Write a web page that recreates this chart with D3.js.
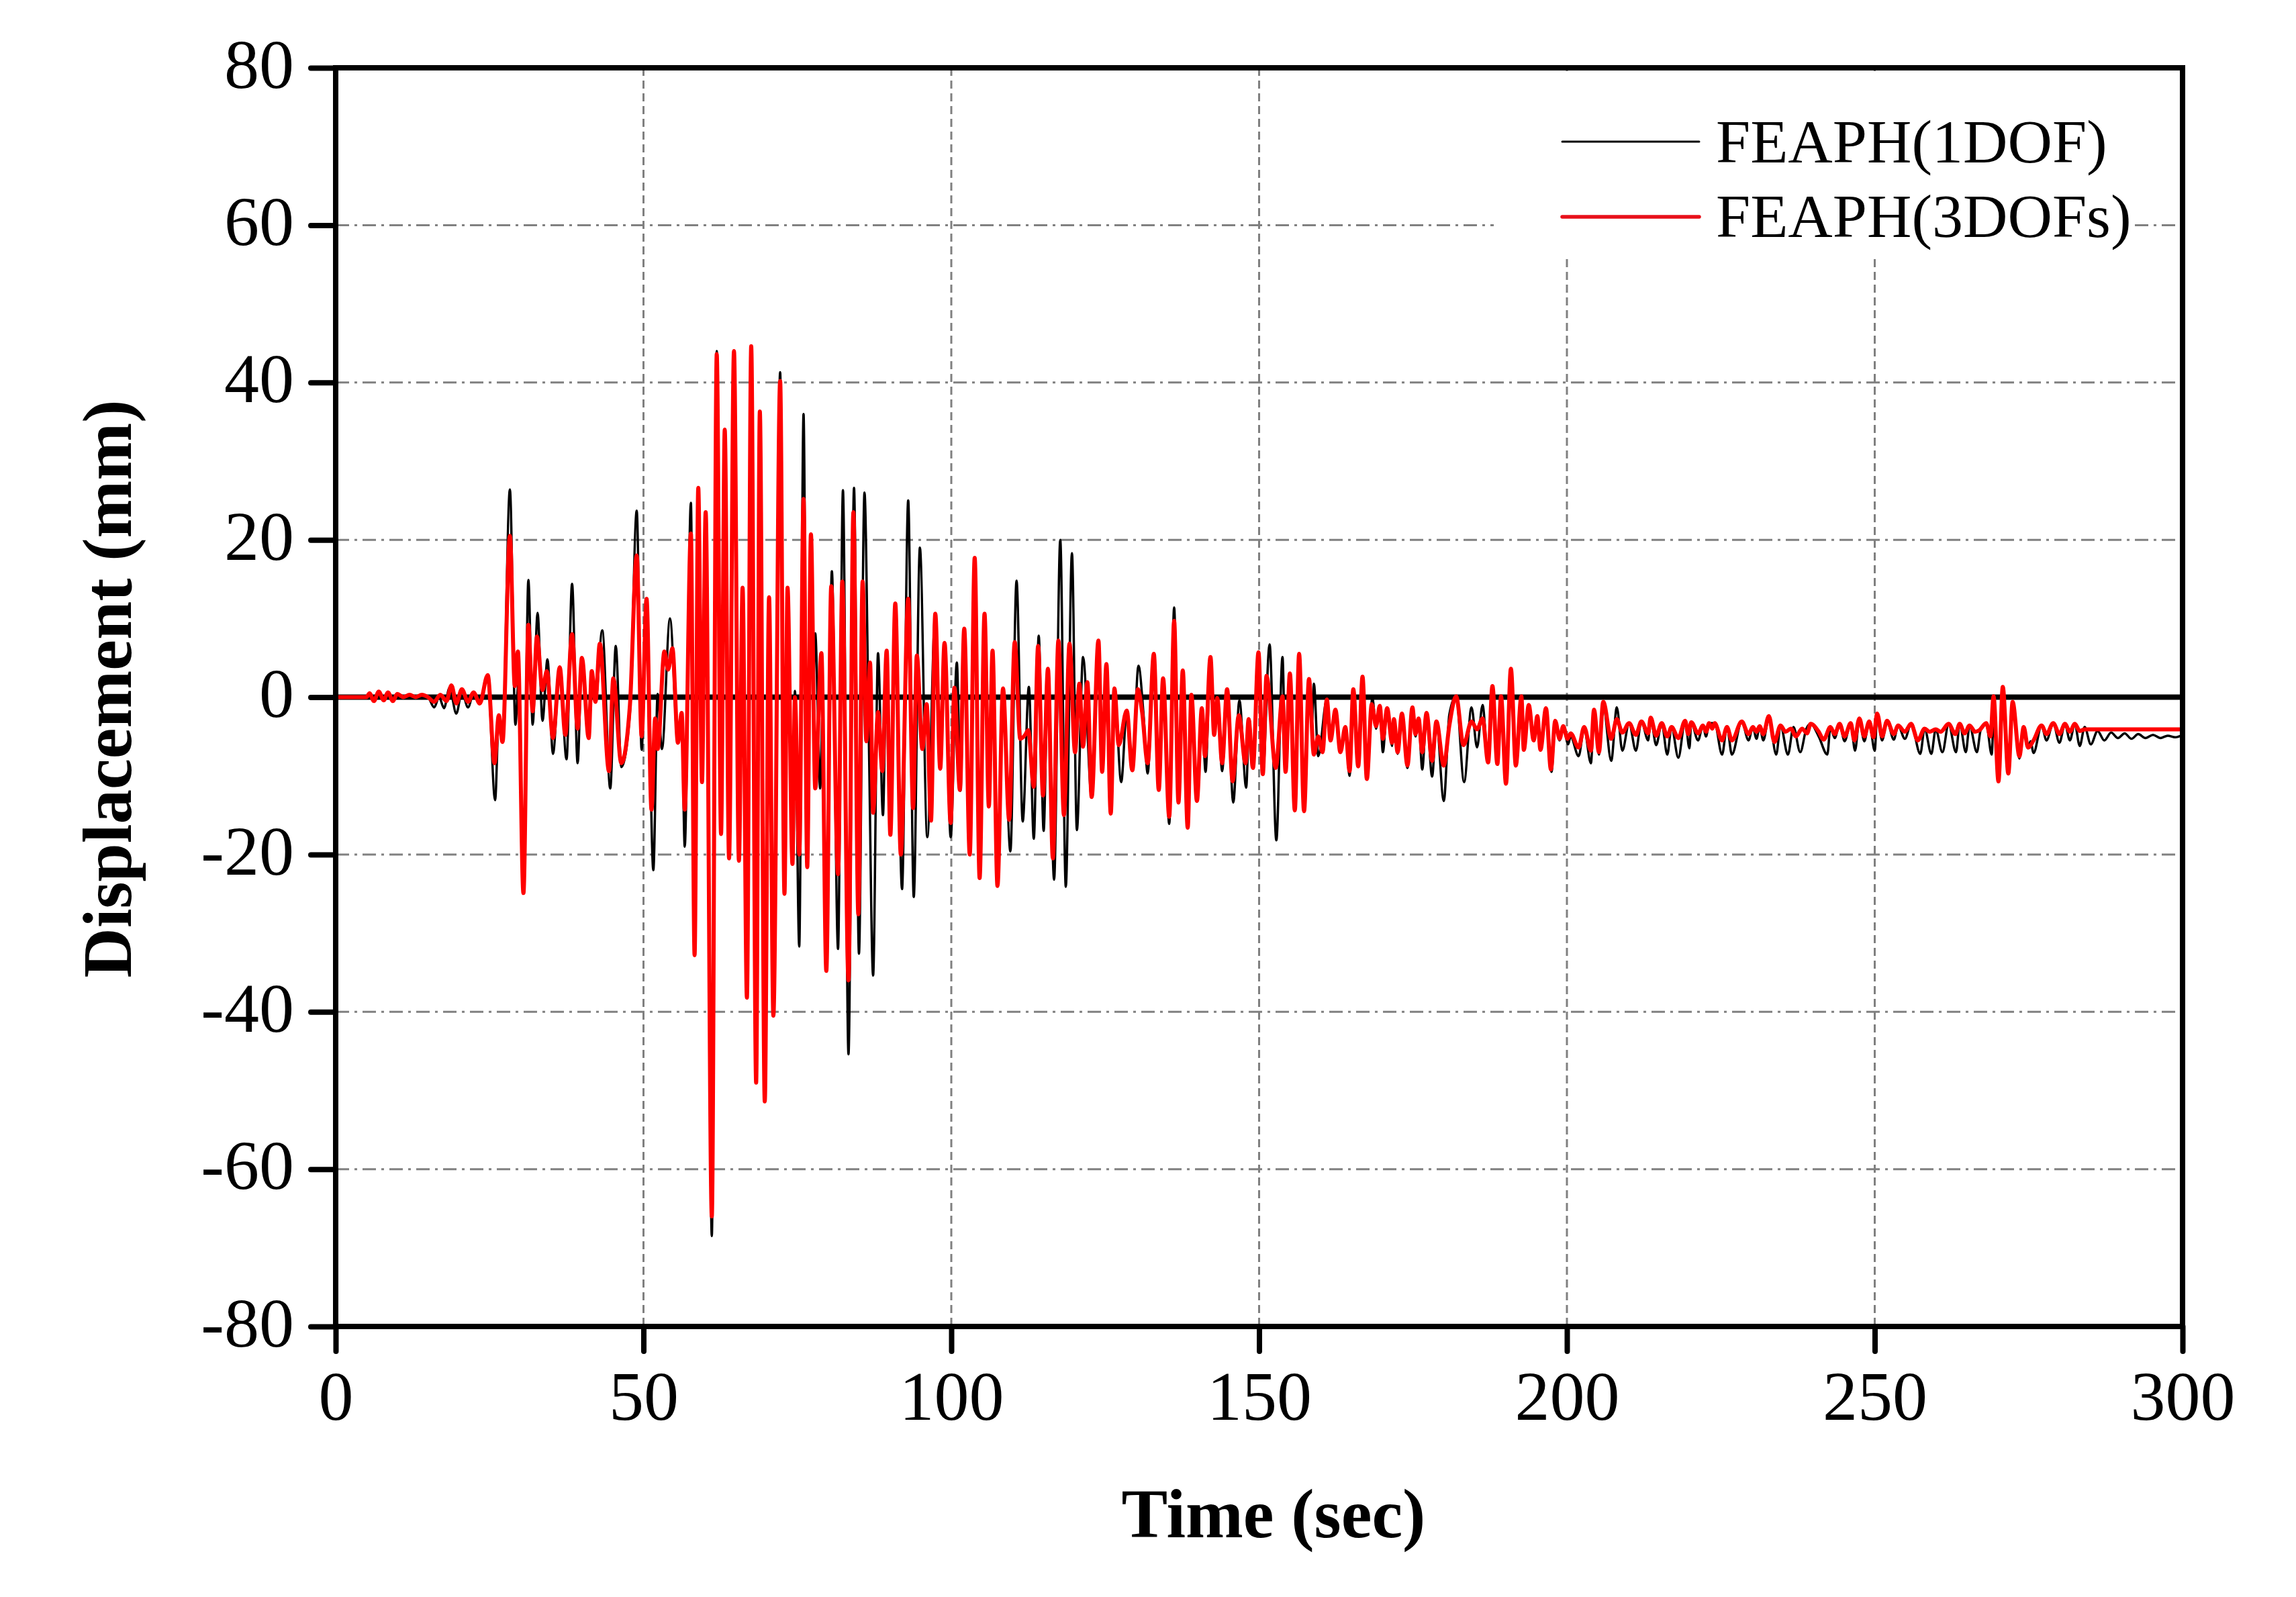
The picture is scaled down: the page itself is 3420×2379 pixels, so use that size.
<!DOCTYPE html>
<html><head><meta charset="utf-8">
<script src="https://cdn.jsdelivr.net/npm/d3@7"></script>
<style>body{margin:0;background:#fff}</style>
</head><body>
<svg id="c" width="3420" height="2379"></svg>
<script>
const xTicks = [0, 50, 100, 150, 200, 250, 300];
const yTicks = [-80, -60, -40, -20, 0, 20, 40, 60, 80];
const seriesNames = ["FEAPH(1DOF)", "FEAPH(3DOFs)"];
const xTitle = "Time (sec)";
const yTitle = "Displacement (mm)";

// FEAPH(1DOF) — black, [time (s), displacement (mm)]
const series1DOF = [[0,0],[5,0],[5.5,0.4],[6.2,-0.5],[7,0.6],[7.8,-0.4],[8.5,0.5],[9.3,-0.5],[10,0.3],[11,0],[12,0.3],[13,0],[14,0.2],[15,0],[16,-1.3],[16.8,0],[17.6,-1.4],[18.5,1.2],[19.6,-2.1],[20.5,0.7],[21.5,-1.3],[22.4,0.5],[23.4,-0.5],[24.7,2.5],[25.9,-13.1],[26.5,-2.5],[27.1,-5],[28.3,26.4],[29.2,-3.5],[29.7,2],[30.5,-24.5],[31.3,14.9],[32.0,-3.5],[32.8,10.7],[33.6,-3],[34.4,4.8],[35.3,-7.2],[36.4,3.8],[37.5,-7.9],[38.4,14.4],[39.3,-8.4],[40.0,5],[41.1,-5],[41.6,3],[42.2,-0.5],[43.3,8.5],[44.6,-11.6],[45.5,6.5],[46.4,-8.9],[47.8,-2],[48.9,23.7],[49.7,-6.7],[50.5,12.5],[51.6,-22],[52.3,0.4],[53.0,-6.6],[54.3,10],[55.6,-5.8],[56.2,-2],[56.7,-19],[57.7,24.7],[58.3,-32.8],[58.9,26.6],[59.5,-10.8],[60.1,23.5],[61.1,-68.5],[61.9,44],[62.6,-17.4],[63.2,34],[63.9,-20.5],[64.7,44],[65.5,-20.8],[66.1,13.9],[66.8,-38.2],[67.5,44.6],[68.3,-49],[68.9,36.3],[69.7,-51.4],[70.4,12.7],[71.1,-40.5],[72.2,41.3],[72.9,-25],[73.4,13.9],[74.2,-21.2],[74.6,0.8],[75.3,-31.7],[76.0,36],[76.6,-21.6],[77.2,20.7],[77.6,2],[77.9,8.1],[78.7,-11.6],[79.1,-2],[79.7,-34.8],[80.6,16],[81.6,-32],[82.4,26.3],[83.3,-45.4],[84.2,26.6],[85.0,-32.6],[85.9,26],[86.6,-5],[87.3,-35.4],[88.1,5.6],[88.9,-15],[89.5,5.9],[90.1,-17.5],[90.9,11.9],[92.0,-24.4],[93.0,25],[93.9,-25.4],[94.9,19],[96.1,-17.8],[97.4,10.6],[98.2,-9.1],[98.9,6.9],[99.9,-17.8],[100.9,4.4],[101.5,-11.9],[102.1,8.7],[103.0,-20],[103.8,17.7],[104.6,-23],[105.4,10.6],[106.1,-13.9],[106.7,5.9],[107.5,-24],[108.4,1.1],[109.6,-19.6],[110.6,14.8],[111.6,-15.8],[112.6,1.3],[113.4,-18],[114.2,7.8],[115.0,-17],[115.7,3.6],[116.7,-23.2],[117.7,20],[118.6,-24.1],[119.6,18.3],[120.4,-16.9],[121.4,5.1],[122.8,-12.7],[123.9,7.2],[124.5,-9.5],[125.2,4.2],[125.9,-14.8],[126.5,1.1],[127.6,-10.8],[128.5,-1.7],[129.4,-9.3],[130.4,4],[131.2,-1.9],[131.9,-9.7],[132.9,5.5],[133.7,-11.8],[134.4,2.4],[135.4,-16.1],[136.2,11.4],[136.9,-13.4],[137.6,3.4],[138.4,-16.6],[139.0,0.3],[139.9,-13.2],[140.7,-1.4],[141.3,-9.5],[142.1,5.1],[142.7,-4.8],[143.2,-0.1],[144.0,-9.4],[144.8,1],[145.8,-13.4],[146.8,-0.4],[147.9,-11.5],[148.4,-2.8],[149.0,-9],[149.9,5.7],[150.6,-9.8],[151.7,6.7],[152.8,-18.2],[153.8,5.1],[154.3,-9.5],[155.0,3],[155.8,-14.4],[156.5,5.5],[157.3,-14.5],[158.1,2.3],[158.6,-3],[158.9,1.7],[159.6,-7.5],[161.0,-0.3],[161.6,-5.5],[162.4,-1.6],[163.2,-7],[164.0,-3.8],[164.7,-10],[165.3,1],[166.1,-8.8],[166.8,2.6],[167.5,-10.4],[168.4,-0.1],[169.0,-4],[169.6,-1.1],[170.1,-7],[170.8,-1.4],[171.6,-6.2],[171.9,-2.8],[172.5,-7.2],[173.2,-2.1],[174.1,-9],[174.9,-1.3],[175.4,-5],[175.9,-2.7],[176.5,-9.2],[177.2,-2],[178.1,-10.1],[178.8,-3.1],[180.0,-13.2],[180.9,-2.2],[182.0,0.1],[183.3,-10.8],[184.5,-1.3],[185.4,-6.4],[186.3,-1],[187.2,-8.3],[187.9,1.4],[188.7,-8.5],[189.3,0.1],[190.1,-11],[190.9,3.6],[191.7,-8.7],[192.6,0.1],[193.0,-6.7],[193.8,-1],[194.6,-5.5],[195.2,-2.4],[195.7,-6.7],[196.6,-1.4],[197.5,-9.5],[198.1,-3],[198.8,-5.5],[199.4,-3.7],[200.2,-6],[200.6,-5],[201.9,-7.5],[202.8,-4],[203.9,-8.4],[204.4,-2],[205.2,-7.3],[205.9,-1],[207.2,-8.1],[208.1,-1.3],[209.0,-6.8],[210.1,-3.3],[211.2,-6.8],[212.1,-3.1],[213.2,-5.5],[213.6,-2.6],[214.5,-6.1],[215.4,-3.3],[216.3,-7.3],[217.0,-3.8],[218.1,-7.7],[219.2,-3],[219.9,-6.5],[220.2,-3.2],[221.3,-5.5],[222.1,-3.6],[222.6,-5],[223.1,-3.3],[224.0,-3.3],[225.2,-7.3],[226.0,-3.8],[226.8,-7.3],[228.4,-3.1],[229.5,-5.5],[230.2,-3.8],[230.8,-5.3],[231.3,-3.7],[231.9,-5.5],[232.8,-2.6],[234.0,-7.3],[234.7,-3.6],[235.9,-7.3],[236.8,-3.8],[237.9,-7.0],[238.9,-4],[239.6,-3.4],[240.9,-5],[242.3,-7.3],[242.8,-3.8],[243.5,-5.2],[244.3,-3.4],[245.1,-5.6],[246.1,-3.3],[246.8,-6.8],[247.5,-2.8],[248.3,-5.6],[249.1,-3.2],[250.0,-6.8],[250.4,-2.3],[251.2,-5.5],[252.0,-3],[253.1,-5.4],[253.8,-3.6],[254.9,-5.3],[255.9,-3.4],[257.4,-7.2],[258.1,-4],[259.2,-7.2],[259.9,-4.1],[261.0,-7],[262.0,-3.4],[263.2,-7],[263.8,-3.4],[264.8,-7],[265.4,-3.6],[266.6,-7],[267.2,-4.2],[268.1,-3.3],[269.0,-7.3],[269.4,-0.5],[270.1,-10.5],[270.8,1.0],[271.7,-9.5],[272.4,-1],[273.5,-7.8],[274.2,-3.8],[274.9,-6.5],[275.3,-5.6],[275.8,-7.1],[277.1,-3.6],[277.9,-5.5],[279.0,-3.3],[280.0,-5.8],[280.9,-3.4],[281.7,-5.5],[282.5,-3.4],[283.3,-6.2],[284.1,-3.8],[285.1,-6],[286.2,-4.3],[287.3,-5.5],[288.4,-4.5],[289.5,-5.2],[290.6,-4.6],[291.7,-5.3],[292.8,-4.7],[294.0,-5.2],[295.2,-4.8],[296.4,-5.2],[297.6,-4.9],[298.8,-5.1],[300,-4.8]];

// FEAPH(3DOFs) — red, [time (s), displacement (mm)]
const series3DOFs = [[0,0],[5,0],[5.5,0.5],[6.2,-0.5],[7,0.7],[7.8,-0.4],[8.5,0.6],[9.3,-0.5],[10,0.4],[11,0],[12,0.3],[13,0],[14,0.3],[15,0],[16,-0.6],[17,0.3],[18,-0.5],[18.8,1.5],[19.6,-0.8],[20.5,1.0],[21.5,-0.6],[22.4,0.6],[23.4,-0.8],[24.7,2.8],[25.8,-8.4],[26.5,-2.3],[27.1,-5.7],[28.3,20.5],[29.1,1.4],[29.6,5.8],[30.5,-24.9],[31.3,9.2],[32.0,-1.8],[32.7,7.7],[33.6,0.9],[34.3,3.3],[35.3,-5.2],[36.4,3.8],[37.3,-4.8],[38.4,8.0],[39.3,-4.0],[40.0,5.0],[41.1,-5.2],[41.6,3.3],[42.2,-0.6],[42.9,6.8],[44.4,-9.4],[45.1,2.4],[46.4,-8.4],[47.8,-1],[48.9,18],[49.7,-5],[50.5,12.5],[51.3,-14.3],[51.9,-2.7],[52.3,-6.6],[53.4,5.8],[54.0,3.5],[54.7,6.2],[55.6,-5.8],[56.2,-2],[56.7,-14.3],[57.7,20.8],[58.3,-32.8],[58.9,26.6],[59.5,-10.8],[60.1,23.5],[61.1,-66],[61.9,43.6],[62.6,-17.4],[63.2,34],[63.9,-20.5],[64.7,44],[65.5,-20.8],[66.1,13.9],[66.8,-38.2],[67.5,44.6],[68.3,-49],[68.9,36.3],[69.7,-51.4],[70.4,12.7],[71.1,-40.5],[72.2,40.2],[72.9,-25],[73.4,13.9],[74.2,-21.2],[74.6,0],[75.3,-20],[76.0,25.2],[76.6,-21.6],[77.2,20.7],[77.9,-11.6],[78.9,5.6],[79.7,-34.8],[80.5,14.1],[81.6,-22.5],[82.3,14.7],[83.3,-36],[84.1,23.5],[84.9,-27.6],[85.6,14.7],[86.2,-5.6],[86.8,4.4],[87.3,-14.7],[88.1,-1.9],[88.8,-9.4],[89.5,5.9],[90.1,-17.5],[90.9,11.9],[91.8,-20],[93.0,12.5],[93.8,-14.1],[94.4,5.3],[95.3,-6.6],[96.0,-0.9],[96.7,-15.7],[97.4,10.6],[98.2,-9.1],[98.9,6.9],[99.9,-16],[100.5,1.2],[101.4,-11.8],[102.1,8.7],[103.0,-20],[103.8,17.7],[104.6,-23],[105.4,10.6],[106.1,-13.9],[106.7,5.9],[107.5,-24],[108.4,1.1],[109.4,-15.6],[110.3,7],[111.2,-5.3],[112.0,-4.8],[112.5,-4.2],[113.4,-11.4],[114.1,6.5],[114.9,-12.5],[115.7,3.6],[116.5,-20.5],[117.4,7.2],[118.3,-15],[119.2,6.8],[120.1,-7],[120.8,1.7],[121.4,-6.3],[122.1,1.9],[122.8,-12.7],[123.9,7.2],[124.5,-9.5],[125.2,4.2],[125.9,-14.8],[126.5,1.1],[127.2,-6.1],[128.5,-1.7],[129.4,-9.3],[130.3,1],[131.0,-1.9],[131.9,-8.4],[132.9,5.5],[133.7,-11.8],[134.4,2.4],[135.4,-15.2],[136.2,9.7],[136.9,-13.4],[137.6,3.4],[138.4,-16.6],[139.0,0.3],[139.9,-13.2],[140.7,-1.4],[141.2,-7.5],[142.1,5.1],[142.7,-4.8],[143.2,-0.1],[144.0,-8.4],[144.8,1],[145.7,-10.7],[146.7,-2.3],[147.8,-8.4],[148.3,-2.8],[149.0,-9],[149.9,5.7],[150.6,-9.8],[151.2,2.7],[152.7,-9],[153.8,0.1],[154.3,-9.5],[155.0,3],[155.8,-14.4],[156.5,5.5],[157.3,-14.5],[158.1,2.3],[158.9,-7.3],[159.6,-5],[160.3,-7],[161.0,-0.3],[161.6,-5.5],[162.4,-1.6],[163.2,-7],[164.0,-3.8],[164.7,-9.4],[165.3,1],[166.1,-8.8],[166.8,2.6],[167.5,-10.4],[168.3,-0.9],[169.0,-3.7],[169.6,-1.1],[170.1,-5.3],[170.8,-1.4],[171.6,-5.8],[171.9,-2.8],[172.5,-7],[173.2,-2.1],[174.1,-8.7],[174.9,-1.3],[175.4,-4.7],[175.9,-2.7],[176.5,-7],[177.2,-2],[178.1,-8.1],[178.8,-3.1],[180.0,-8.7],[180.9,-3.6],[182.0,0.1],[183.2,-6.1],[184.5,-3.1],[185.4,-4.1],[186.3,-2.7],[187.2,-8.3],[187.9,1.4],[188.7,-8.5],[189.3,0.1],[190.1,-11],[190.9,3.6],[191.7,-8.7],[192.6,0.1],[193.0,-6.7],[193.8,-1],[194.6,-5.5],[195.2,-2.4],[195.7,-6.7],[196.6,-1.4],[197.4,-9.2],[198.1,-3],[198.8,-5.3],[199.4,-3.7],[200.1,-5.3],[200.6,-4.6],[201.9,-6.4],[202.8,-3.8],[203.9,-6.8],[204.4,-1.6],[205.2,-7],[205.9,-0.6],[207.2,-5.3],[208.1,-2.8],[209.0,-4.5],[210.1,-3.3],[211.2,-4.8],[212.1,-3.1],[213.2,-4.6],[213.6,-2.6],[214.5,-4.9],[215.4,-3.3],[216.3,-5],[217.0,-3.8],[218.1,-5.2],[219.2,-3],[219.7,-4.7],[220.2,-3.2],[221.3,-4.6],[222.1,-3.6],[222.6,-4.4],[223.1,-3.3],[223.6,-4.0],[224.0,-3.3],[225.2,-5.5],[226.0,-3.8],[226.8,-5.5],[228.4,-3.1],[229.5,-4.7],[230.2,-3.8],[230.8,-4.4],[231.3,-3.7],[231.9,-4.7],[232.8,-2.4],[233.7,-5.7],[234.7,-3.6],[235.5,-4.4],[236.4,-4],[237.2,-5],[238.2,-4],[239.0,-4.6],[239.6,-3.4],[240.9,-4.4],[241.7,-5.4],[242.8,-3.8],[243.5,-4.7],[244.3,-3.4],[245.1,-5],[246.1,-3.3],[246.7,-5.5],[247.5,-2.7],[248.3,-5],[249.1,-3.1],[249.8,-5.1],[250.4,-2.1],[251.2,-5],[252.0,-3],[253.1,-4.7],[253.8,-3.6],[254.9,-4.4],[255.9,-3.4],[257.0,-5.5],[258.1,-4],[258.9,-4.4],[259.9,-4.1],[260.7,-4.4],[262.0,-3.4],[263.1,-4.7],[263.8,-3.4],[264.6,-4.6],[265.4,-3.6],[266.3,-4.4],[267.0,-4.2],[268.1,-3.3],[268.8,-5],[269.3,0.1],[270.1,-10.7],[270.8,1.3],[271.7,-9.7],[272.4,-0.6],[273.5,-7.5],[274.2,-3.8],[274.9,-6.4],[275.8,-5.5],[277.1,-3.6],[277.9,-4.7],[279.0,-3.3],[280.0,-4.7],[280.9,-3.4],[281.7,-4.4],[282.5,-3.4],[283.3,-4.3],[284.1,-4.1],[300,-4.1]];

const svg = d3.select("#c");
const L = 500, R = 3251, T = 101, B = 1976;
const x = d3.scaleLinear().domain([0, 300]).range([L, R]);
const y = d3.scaleLinear().domain([-80, 80]).range([B, T]);
const serif = "'Liberation Serif','Times New Roman',serif";
const fmt = d => String(d);  // ASCII hyphen-minus like the reference

svg.append("rect").attr("width", 3420).attr("height", 2379).attr("fill", "#fff");

// grid
const grid = svg.append("g");
grid.selectAll(".vg").data(xTicks.filter(d => d > 0 && d < 300)).enter().append("line")
  .attr("x1", d => x(d)).attr("x2", d => x(d)).attr("y1", T).attr("y2", B)
  .attr("stroke", "#808080").attr("stroke-width", 3).attr("stroke-dasharray", "12,7");
grid.selectAll(".hg").data(yTicks.filter(d => d !== 0 && Math.abs(d) < 80)).enter().append("line")
  .attr("x1", L).attr("x2", R).attr("y1", d => y(d)).attr("y2", d => y(d))
  .attr("stroke", "#808080").attr("stroke-width", 3).attr("stroke-dasharray", "20,8,4,8");

// zero line
svg.append("line").attr("x1", L).attr("x2", R).attr("y1", y(0)).attr("y2", y(0))
  .attr("stroke", "#000").attr("stroke-width", 8);

svg.append("clipPath").attr("id", "clip").append("rect")
  .attr("x", L).attr("y", T).attr("width", R - L).attr("height", B - T);

const line = d3.line().x(d => x(d[0])).y(d => y(d[1])).curve(d3.curveMonotoneX);
const plot = svg.append("g").attr("clip-path", "url(#clip)");
plot.append("path").datum(series1DOF).attr("d", line)
  .attr("fill", "none").attr("stroke", "#000").attr("stroke-width", 3.5).attr("stroke-linejoin", "round");
plot.append("path").datum(series3DOFs).attr("d", line)
  .attr("fill", "none").attr("stroke", "#ff0000").attr("stroke-width", 6).attr("stroke-linejoin", "round");

// legend
svg.append("rect").attr("x", 2225).attr("y", 106).attr("width", 955).attr("height", 276).attr("fill", "#fff");
const lg = [{name: seriesNames[0], color: "#000", w: 3, yy: 211, base: 242},
            {name: seriesNames[1], color: "#e8101a", w: 5.5, yy: 323, base: 353}];
lg.forEach(d => {
  svg.append("line").attr("x1", 2327).attr("x2", 2531).attr("y1", d.yy).attr("y2", d.yy)
    .attr("stroke", d.color).attr("stroke-width", d.w).attr("stroke-linecap", "round");
  svg.append("text").attr("x", 2556).attr("y", d.base).text(d.name)
    .attr("font-family", serif).attr("font-size", 92).attr("fill", "#000");
});

// frame
svg.append("rect").attr("x", L).attr("y", T).attr("width", R - L).attr("height", B - T)
  .attr("fill", "none").attr("stroke", "#000").attr("stroke-width", 8);

// axes
const ax = svg.append("g").attr("transform", `translate(0,${B})`)
  .call(d3.axisBottom(x).tickValues(xTicks).tickSize(37).tickPadding(28).tickFormat(fmt));
const ay = svg.append("g").attr("transform", `translate(${L},0)`)
  .call(d3.axisLeft(y).tickValues(yTicks).tickSize(37).tickPadding(25).tickFormat(fmt));
[ax, ay].forEach(g => {
  g.select(".domain").remove();
  g.selectAll(".tick line").attr("stroke", "#000").attr("stroke-width", 8).attr("stroke-linecap", "round");
  g.selectAll(".tick text").attr("font-family", serif).attr("font-size", 104).attr("fill", "#000");
});
ay.selectAll(".tick text").attr("dy", "0.28em");

// titles
svg.append("text").attr("x", 1897).attr("y", 2290).attr("text-anchor", "middle")
  .attr("font-family", serif).attr("font-weight", "bold").attr("font-size", 103).text(xTitle);
svg.append("text").attr("transform", "translate(195,1026) rotate(-90)").attr("text-anchor", "middle")
  .attr("font-family", serif).attr("font-weight", "bold").attr("font-size", 103).text(yTitle);
</script>
</body></html>
